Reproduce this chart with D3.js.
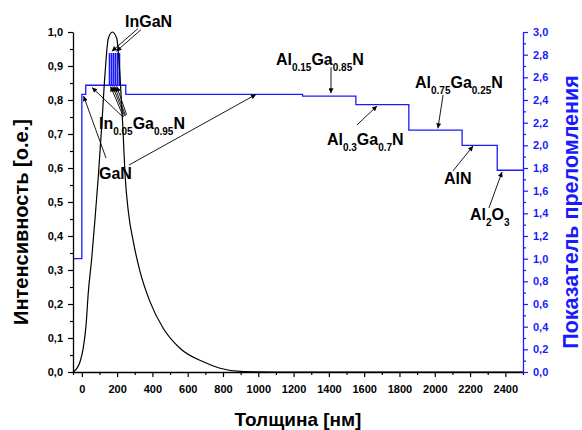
<!DOCTYPE html>
<html>
<head>
<meta charset="utf-8">
<script src="https://cdn.jsdelivr.net/npm/d3@7"></script>
<style>
  html, body { margin: 0; padding: 0; background: #ffffff; }
  svg { display: block; font-family: "Liberation Sans", Arial, sans-serif; }
</style>
</head>
<body>
<svg id="chart" width="582" height="430"></svg>
<script>
// Optical field intensity across the structure (thickness in nm, intensity in a.u.)
const intensityDepth = [-50, -44, -10, 8, 24, 37, 56, 75, 94, 113, 131, 150, 173, 198, 216, 232, 245, 264, 292, 330, 386, 462, 556, 688, 783, 915, 1100, 2500];
const intensityValue = [0, 0.002, 0.03, 0.07, 0.138, 0.236, 0.334, 0.452, 0.579, 0.726, 0.874, 0.981, 1.0, 0.981, 0.874, 0.726, 0.58, 0.47, 0.383, 0.295, 0.207, 0.128, 0.07, 0.03, 0.011, 0.001, 0, 0];

// Refractive index profile: layer boundaries (nm) and index of each layer
// air | GaN cap | In0.05Ga0.95N with six InGaN wells | GaN | AlGaN steps | AlN | Al2O3
const layerStart = [-50, 0, 22, 156, 157.5, 167.5, 169, 178.8, 180.3, 190, 191.5, 201.5, 203, 212.8, 214.3, 249, 1251, 1553, 1853, 2155, 2354];
const layerEnd   = [0, 22, 156, 157.5, 167.5, 169, 178.8, 180.3, 190, 191.5, 201.5, 203, 212.8, 214.3, 249, 1251, 1553, 1853, 2155, 2354, 2500];
const layerIndex = [1.0, 2.45, 2.53, 2.81, 2.53, 2.81, 2.53, 2.81, 2.53, 2.81, 2.53, 2.81, 2.53, 2.81, 2.53, 2.45, 2.435, 2.36, 2.135, 2.0, 1.78];

// Axis ticks and their labels
const depthTicks = [0, 200, 400, 600, 800, 1000, 1200, 1400, 1600, 1800, 2000, 2200, 2400];
const depthTickLabels = ["0", "200", "400", "600", "800", "1000", "1200", "1400", "1600", "1800", "2000", "2200", "2400"];
const depthMinorTicks = [-50, 100, 300, 500, 700, 900, 1100, 1300, 1500, 1700, 1900, 2100, 2300, 2500];
const intensityTicks = [0, 0.1, 0.2, 0.3, 0.4, 0.5, 0.6, 0.7, 0.8, 0.9, 1.0];
const intensityTickLabels = ["0,0", "0,1", "0,2", "0,3", "0,4", "0,5", "0,6", "0,7", "0,8", "0,9", "1,0"];
const intensityMinorTicks = [0.05, 0.15, 0.25, 0.35, 0.45, 0.55, 0.65, 0.75, 0.85, 0.95];
const indexTicks = [0, 0.2, 0.4, 0.6, 0.8, 1.0, 1.2, 1.4, 1.6, 1.8, 2.0, 2.2, 2.4, 2.6, 2.8, 3.0];
const indexTickLabels = ["0,0", "0,2", "0,4", "0,6", "0,8", "1,0", "1,2", "1,4", "1,6", "1,8", "2,0", "2,2", "2,4", "2,6", "2,8", "3,0"];
const indexMinorTicks = [0.1, 0.3, 0.5, 0.7, 0.9, 1.1, 1.3, 1.5, 1.7, 1.9, 2.1, 2.3, 2.5, 2.7, 2.9];

// Layer captions: text parts (subscript flag), text anchor and arrow ends, in (nm, index) units
const captionParts = [
  [["InGaN", false]],
  [["In", false], ["0.05", true], ["Ga", false], ["0.95", true], ["N", false]],
  [["GaN", false]],
  [["Al", false], ["0.15", true], ["Ga", false], ["0.85", true], ["N", false]],
  [["Al", false], ["0.3", true], ["Ga", false], ["0.7", true], ["N", false]],
  [["Al", false], ["0.75", true], ["Ga", false], ["0.25", true], ["N", false]],
  [["AlN", false]],
  [["Al", false], ["2", true], ["O", false], ["3", true]]
];
const captionAt = [[245, 3.044], [97, 2.144], [97, 1.703], [1100, 2.709], [1389, 2.003], [1888, 2.506], [2052, 1.659], [2200, 1.341]];
const captionArrows = [
  [[[318, 3.03], [170, 2.83]], [[335, 3.02], [196, 2.83]]],
  [[[233, 2.25], [58, 2.51]], [[236, 2.25], [163, 2.52]], [[242, 2.26], [175, 2.52]], [[248, 2.26], [186, 2.52]], [[254, 2.27], [198, 2.52]]],
  [[[137, 1.888], [10, 2.435]], [[267, 1.826], [987, 2.449]]],
  [[[1412, 2.69], [1412, 2.46]]],
  [[[1559, 2.18], [1673, 2.347]]],
  [[[2047, 2.444], [2018, 2.15]]],
  [[[2103, 1.774], [2217, 1.994]]],
  [[[2307, 1.447], [2381, 1.765]]]
];

const svg = d3.select("#chart");
const blue = "#1a1aff";

const x = d3.scaleLinear().domain([-50, 2500]).range([73, 523]);
const yL = d3.scaleLinear().domain([0, 1]).range([372, 32]);
const yR = d3.scaleLinear().domain([0, 3]).range([372, 32]);

svg.append("defs").append("marker")
  .attr("id", "head")
  .attr("viewBox", "0 0 10 10")
  .attr("refX", 10).attr("refY", 5)
  .attr("markerWidth", 7).attr("markerHeight", 5)
  .attr("markerUnits", "userSpaceOnUse")
  .attr("orient", "auto")
  .append("path").attr("d", "M0,0 L10,5 L0,10 z").attr("fill", "#000");

// Refractive index profile as a step line
const stepPoints = [];
layerIndex.forEach((n, i) => { stepPoints.push([layerStart[i], n]); stepPoints.push([layerEnd[i], n]); });
svg.append("path")
  .datum(stepPoints)
  .attr("fill", "none")
  .attr("stroke", blue)
  .attr("stroke-width", 1.3)
  .attr("d", d3.line().x(d => x(d[0])).y(d => yR(d[1])));

// Intensity curve
svg.append("path")
  .datum(intensityDepth.map((d, i) => [d, intensityValue[i]]))
  .attr("fill", "none")
  .attr("stroke", "#000")
  .attr("stroke-width", 1.2)
  .attr("d", d3.line().x(d => x(d[0])).y(d => yL(d[1])).curve(d3.curveMonotoneX));

// Axes
function styleAxis(g, color) {
  g.selectAll(".domain").attr("stroke", color).attr("stroke-width", 1.3);
  g.selectAll(".tick line").attr("stroke", color).attr("stroke-width", 1.2);
  g.selectAll(".tick text").attr("fill", color).attr("font-size", 11).attr("font-weight", "bold")
    .attr("font-family", '"Liberation Sans", Arial, sans-serif');
}

const gx = svg.append("g").attr("transform", "translate(0,372)");
gx.call(d3.axisBottom(x).tickValues(depthMinorTicks).tickSize(3).tickSizeOuter(0).tickFormat(""));
gx.append("g").call(d3.axisBottom(x).tickValues(depthTicks).tickSize(5).tickPadding(8)
  .tickFormat((d, i) => depthTickLabels[i])).select(".domain").remove();
styleAxis(gx, "#000");

const gl = svg.append("g").attr("transform", "translate(73,0)");
gl.call(d3.axisLeft(yL).tickValues(intensityMinorTicks).tickSize(3).tickSizeOuter(0).tickFormat(""));
gl.append("g").call(d3.axisLeft(yL).tickValues(intensityTicks).tickSize(5).tickPadding(5)
  .tickFormat((d, i) => intensityTickLabels[i])).select(".domain").remove();
styleAxis(gl, "#000");

const gr = svg.append("g").attr("transform", "translate(523,0)");
gr.call(d3.axisRight(yR).tickValues(indexMinorTicks).tickSize(3).tickSizeOuter(0).tickFormat(""));
gr.append("g").call(d3.axisRight(yR).tickValues(indexTicks).tickSize(5).tickPadding(5)
  .tickFormat((d, i) => indexTickLabels[i])).select(".domain").remove();
styleAxis(gr, blue);

// Axis titles
svg.append("text")
  .attr("x", 298).attr("y", 426)
  .attr("text-anchor", "middle")
  .attr("font-size", 19).attr("font-weight", "bold")
  .text("Толщина [нм]");

svg.append("text")
  .attr("transform", "translate(28,222) rotate(-90)")
  .attr("text-anchor", "middle")
  .attr("font-size", 20).attr("font-weight", "bold")
  .text("Интенсивность [о.е.]");

svg.append("text")
  .attr("transform", "translate(578,212) rotate(-90)")
  .attr("text-anchor", "middle")
  .attr("font-size", 21.5).attr("font-weight", "bold")
  .attr("fill", blue)
  .text("Показатель преломления");

// Layer captions with arrows
captionParts.forEach((parts, i) => {
  const t = svg.append("text")
    .attr("x", x(captionAt[i][0])).attr("y", yR(captionAt[i][1]))
    .attr("font-weight", "bold").attr("fill", "#000");
  let shifted = false;
  parts.forEach(([s, sub]) => {
    const span = t.append("tspan").text(s).attr("font-size", sub ? 10 : 16);
    if (sub && !shifted) { span.attr("dy", 6); shifted = true; }
    else if (!sub && shifted) { span.attr("dy", -6); shifted = false; }
  });
  captionArrows[i].forEach(([a, b]) => {
    svg.append("line")
      .attr("x1", x(a[0])).attr("y1", yR(a[1]))
      .attr("x2", x(b[0])).attr("y2", yR(b[1]))
      .attr("stroke", "#000").attr("stroke-width", 0.9)
      .attr("marker-end", "url(#head)");
  });
});
</script>
</body>
</html>
